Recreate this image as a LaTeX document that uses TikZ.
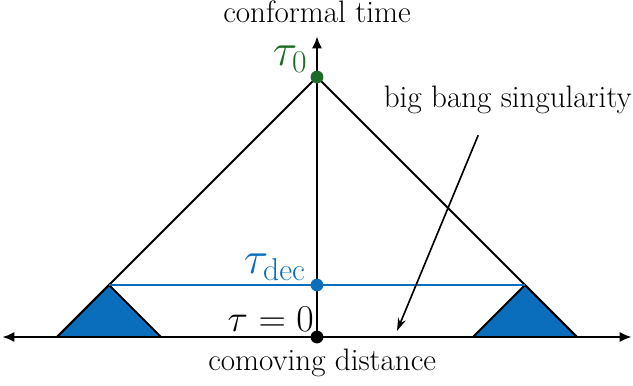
\documentclass[tikz,border=0pt]{standalone}
\usepackage{tikz}
\usetikzlibrary{calc, positioning, arrows.meta}
\definecolor{color_text}{HTML}{000000}
\definecolor{color_blue}{HTML}{0A6EBD}
\definecolor{color_green}{HTML}{1D6B27}
\tikzset{
  cone_line/.style={draw=color_text, line width=1.05pt},
  patch_fill/.style={fill=color_blue, draw=color_text, line width=1.05pt, line join=miter},
  dec_line/.style={draw=color_blue, line width=0.9pt},
  axis_arrow/.style={draw=color_text, line width=1.05pt, -{Latex[length=6.5pt, width=5.5pt]}},
  axis_label/.style={font=\fontsize{17}{20}\selectfont, text=color_text, inner sep=1pt},
  time_label/.style={inner sep=1pt},
  time_dot/.style={circle, inner sep=0pt, minimum size=7pt},
  note_arrow/.style={draw=color_text, line width=0.9pt, -{Stealth[length=7pt, width=4.5pt]}},
}
\begin{document}
\begin{tikzpicture}[scale=1.0]
    \useasboundingbox (-6.096,-0.923) rectangle (6.077,6.481);
    % Axes
    \coordinate (x_left) at (-6.05,0);
    \coordinate (x_right) at (6.05,0);
    \coordinate (t_top) at (0,5.78);
    \coordinate (origin) at (0,0);
    % Light cone and decoupling
    \coordinate (apex) at (0,5);
    \coordinate (cone_l) at (-5,0);
    \coordinate (cone_r) at (5,0);
    \coordinate (dec_l) at (-4,1);
    \coordinate (dec_r) at (4,1);
    \draw[patch_fill] (cone_l) -- (dec_l) -- (-3,0) -- cycle;
    \draw[patch_fill] (3,0) -- (dec_r) -- (cone_r) -- cycle;
    \draw[cone_line] (cone_l) -- (apex) -- (cone_r);
    \draw[dec_line] (dec_l) -- (dec_r);
    \draw[axis_arrow, {Latex[length=6.5pt, width=5.5pt]}-{Latex[length=6.5pt, width=5.5pt]}] (x_left) -- (x_right);
    \draw[axis_arrow] (origin) -- (t_top);
    % Times on the axis
    \node[time_dot, fill=color_text] (tau_zero) at (origin) {};
    \node[time_dot, fill=color_blue] (tau_dec) at (0,1) {};
    \node[time_dot, fill=color_green] (tau_now) at (apex) {};
    \node[time_label, anchor=south east, text=color_text, font=\fontsize{22}{26}\selectfont] (lab_zero) at (-0.02,0.07) {$\tau = 0$};
    \node[time_label, anchor=south east, text=color_blue, font=\fontsize{23}{27}\selectfont] (lab_dec) at (-0.17,1.05) {$\tau_{\mathrm{dec}}$};
    \node[time_label, anchor=south east, text=color_green, font=\fontsize{24.5}{28}\selectfont] (lab_now) at (-0.14,5.05) {$\tau_0$};
    % Axis names
    \node[axis_label] (time_name) at (0,6.25) {conformal time};
    \node[axis_label] (dist_name) at (0.1,-0.49) {comoving distance};
    \node[axis_label] (bb_name) at (3.67,4.56) {big bang singularity};
    \coordinate (bb_tail) at (3.1,3.88);
    \coordinate (bb_head) at (1.54,0.12);
    \draw[note_arrow] (bb_tail) -- (bb_head);
  \end{tikzpicture}
\end{document}
